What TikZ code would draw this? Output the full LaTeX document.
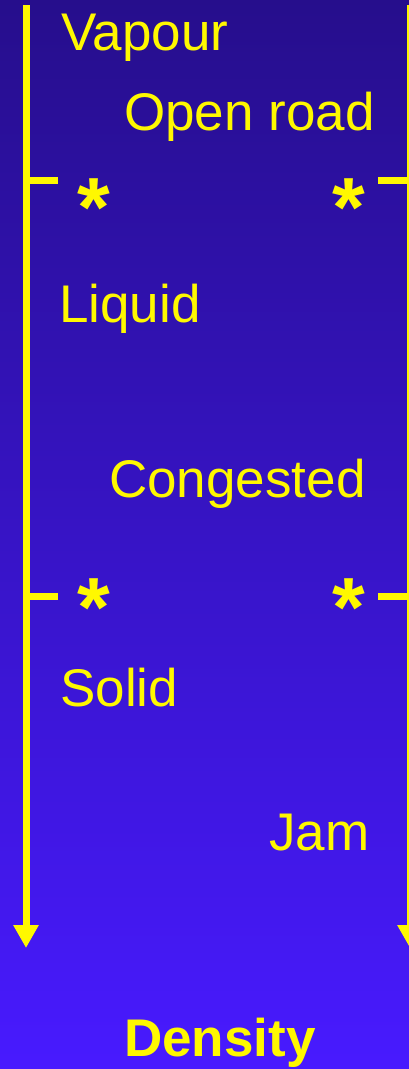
\documentclass[tikz,border=0pt]{standalone}
\usepackage{fontspec}
\setmainfont{Liberation Sans}
\usetikzlibrary{arrows.meta}
\definecolor{bgtop}{RGB}{38,14,140}
\definecolor{bgbot}{RGB}{72,26,255}
\definecolor{ylw}{RGB}{255,248,0}

\begin{document}
\begin{tikzpicture}[x=1pt, y=-1pt]
\tikzset{phase/.style={text=ylw, inner sep=0pt, anchor=base west, font=\fontsize{53}{60}\selectfont}}
\tikzset{sep/.style={text=ylw, inner sep=0pt, anchor=base, font=\fontsize{84}{96}\selectfont\bfseries}}
\tikzset{axis/.style={draw=ylw, line width=7pt, -{Triangle[width=24pt,length=23pt]}}}
\tikzset{tick/.style={draw=ylw, line width=7pt}}

\shade[top color=bgtop, bottom color=bgbot] (0,0) rectangle (409,1069);
\useasboundingbox (0,0) rectangle (409,1069);
\clip (0,0) rectangle (409,1069);

% the two density axes
\coordinate (ltop) at (26,5);
\coordinate (lbot) at (26,948);
\coordinate (rtop) at (410,5);
\coordinate (rbot) at (410,948);
\draw[axis] (ltop) -- (lbot);
\draw[axis] (rtop) -- (rbot);

% phase boundaries
\coordinate (la) at (26,180.5);  \coordinate (lae) at (58,180.5);
\coordinate (ra) at (378,180.5); \coordinate (rae) at (410,180.5);
\coordinate (lb) at (26,596.5);  \coordinate (lbe) at (58,596.5);
\coordinate (rb) at (378,596.5); \coordinate (rbe) at (410,596.5);
\draw[tick] (la) -- (lae);
\draw[tick] (ra) -- (rae);
\draw[tick] (lb) -- (lbe);
\draw[tick] (rb) -- (rbe);

\node[sep] (sa1) at (93.5,236) {*};
\node[sep] (sa2) at (349,236) {*};
\node[sep] (sb1) at (93.5,636) {*};
\node[sep] (sb2) at (349,636) {*};

\node[phase] (vapour) at (61,50) {Vapour};
\node[phase] (open) at (124,130) {Open road};
\node[phase] (liquid) at (59,322.5) {Liquid};
\node[phase] (congested) at (109,497.5) {Congested};
\node[phase] (solid) at (60,706.5) {Solid};
\node[phase] (jam) at (269,850.5) {Jam};
\node[phase, font=\fontsize{53}{60}\selectfont\bfseries] (density) at (124,1056.5) {Density};
\end{tikzpicture}
\end{document}
